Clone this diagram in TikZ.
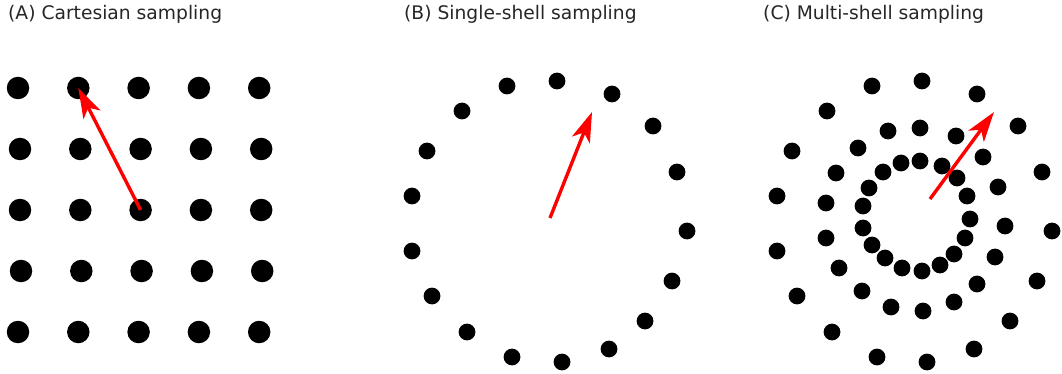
\documentclass[tikz,border=0pt]{standalone}
\usepackage{fontspec}
\setmainfont{DejaVu Sans}
\usepackage{tikz}
\usetikzlibrary{arrows.meta, positioning}
\tikzset{
  bigdot/.style={circle, fill=black, inner sep=0pt, minimum size=22.5pt},
  dot/.style={circle, fill=black, inner sep=0pt, minimum size=16.8pt},
  title/.style={anchor=base west, inner sep=0pt, font=\fontsize{18.7}{22}\selectfont, text=black!85},
  arrow/.style={-{Stealth[length=30pt, width=19pt, inset=8pt]}, draw=red, line width=3.4pt},
}

\begin{document}
\begin{tikzpicture}[x=1pt, y=-1pt]
  \useasboundingbox (0,0) rectangle (1062,374);

  % Titles
  \node[title] (ta) at (8,19.5) {(A) Cartesian sampling};
  \node[title] (tb) at (404,19.5) {(B) Single-shell sampling};
  \node[title] (tc) at (763,19.5) {(C) Multi-shell sampling};

  % (A) grid
  \foreach \r/\y/\dx in {1/88/18, 2/149/20, 3/210/20, 4/271/21, 5/332/18}
    \foreach \c in {1,...,5}
      \node[bigdot] (a\r\c) at ({\dx+60.3*(\c-1)},\y) {};
  \draw[arrow] (a33.center) -- (a12.center);

  % (B) single shell
  \foreach \x/\y [count=\i] in {557/81, 612/94, 653/126, 677/172, 687/231, 672/281,
      645/321, 609/349, 562/362, 512/357, 467/332, 432/296, 412/251, 412/196,
      427/151, 462/111, 507/86}
    \node[dot] (b\i) at (\x,\y) {};
  \coordinate (bo) at (550,218);
  \coordinate (bq) at (592,112);
  \draw[arrow] (bo) -- (bq);

  % (C) multi shell: outer, middle, inner
  \foreach \x/\y [count=\i] in {557/81, 612/94, 653/126, 677/172, 687/231, 672/281,
      645/321, 609/349, 562/362, 512/357, 467/332, 432/296, 412/251, 412/196,
      427/151, 462/111, 507/86}
    \node[dot] (co\i) at (\x+365,\y) {};
  \foreach \x/\y [count=\i] in {920/128, 956/136, 983/157, 998/187, 1005/226, 995/257,
      977/284, 954/302, 923/311, 891/307, 862/291, 839/268, 826/238, 826/203,
      836/173, 858/148, 888/131}
    \node[dot] (cm\i) at (\x,\y) {};
  \foreach \x/\y [count=\i] in {920/161, 942/166, 957/178, 967/196, 970/219, 965/238,
      954/254, 940/265, 922/271, 902/268, 885/258, 872/245, 863/228, 863/206,
      869/188, 883/172, 901/163}
    \node[dot] (ci\i) at (\x,\y) {};
  \coordinate (co) at (930,199);
  \coordinate (cq) at (994,112);
  \draw[arrow] (co) -- (cq);

\end{tikzpicture}
\end{document}
